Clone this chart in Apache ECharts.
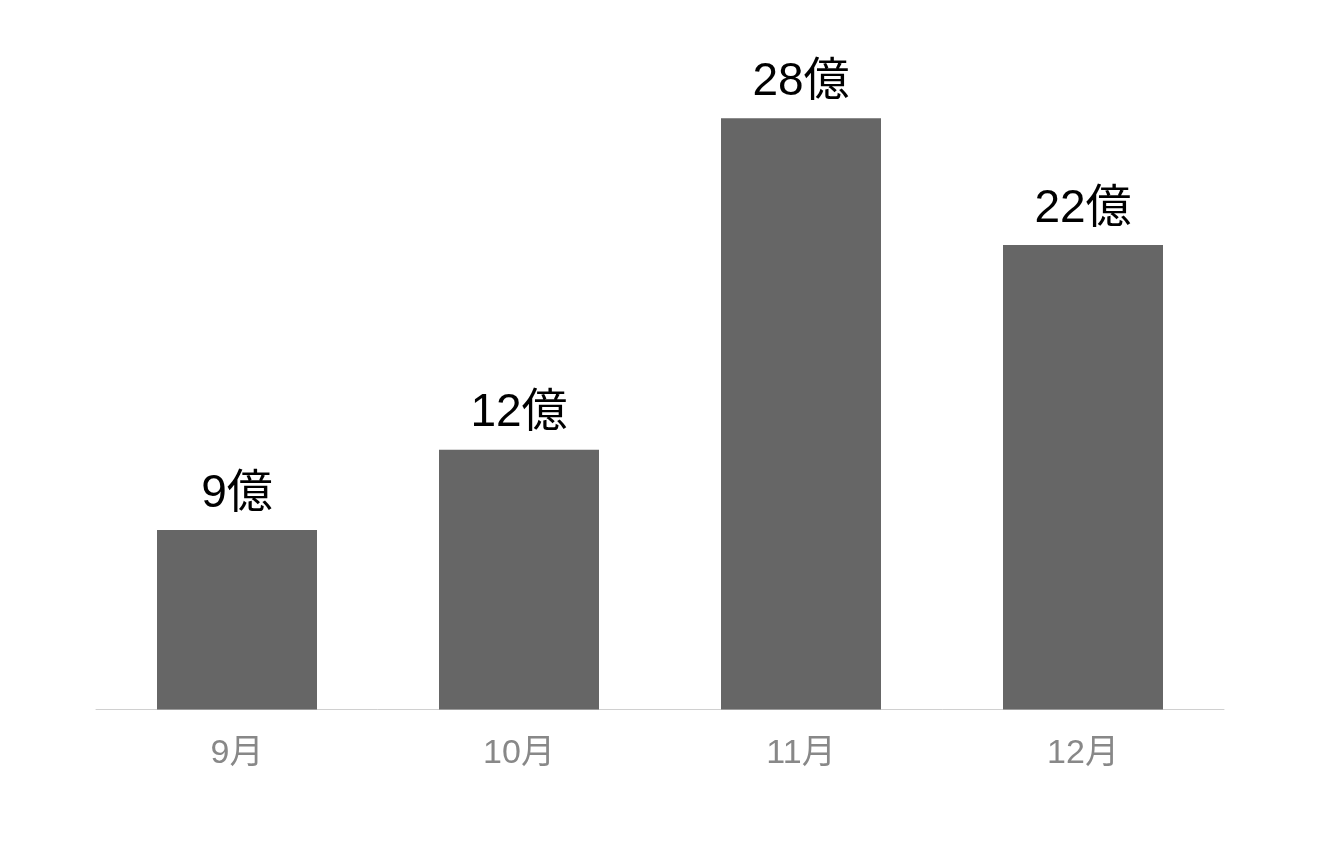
<!DOCTYPE html>
<html>
<head>
<meta charset="utf-8">
<style>
  html, body { margin: 0; padding: 0; background: #ffffff; }
  #chart { width: 1328px; height: 846px; }
</style>
<script src="https://cdn.jsdelivr.net/npm/echarts@6/dist/echarts.min.js"></script>
</head>
<body>
<div id="chart"></div>
<script>
// months on the x axis
const months = ["9月", "10月", "11月", "12月"];
// bar heights (unit: 億)
const amounts = [8.5, 12.3, 28, 22];
// text printed above each bar
const amountLabels = ["9億", "12億", "28億", "22億"];

const FONT = "'Liberation Sans', 'Noto Sans CJK JP', sans-serif";

const chart = echarts.init(document.getElementById("chart"), null, { renderer: "canvas" });

chart.setOption({
  animation: false,
  backgroundColor: "#ffffff",
  grid: { left: 96, right: 104, top: 76, bottom: 136.5, containLabel: false },
  xAxis: {
    type: "category",
    data: months,
    axisLine: { lineStyle: { color: "#d0d0d0", width: 1 } },
    axisTick: { show: false },
    axisLabel: {
      color: "#888888",
      fontSize: 34,
      margin: 27,
      fontFamily: FONT,
    },
  },
  yAxis: {
    type: "value",
    min: 0,
    max: 30,
    show: false,
    splitLine: { show: false },
  },
  series: [
    {
      type: "bar",
      data: amounts,
      barWidth: 160,
      itemStyle: { color: "#666666" },
      label: {
        show: true,
        position: "top",
        distance: 13,
        color: "#000000",
        fontSize: 46,
        fontFamily: FONT,
        formatter: (params) => amountLabels[params.dataIndex],
      },
    },
  ],
});
</script>
</body>
</html>
